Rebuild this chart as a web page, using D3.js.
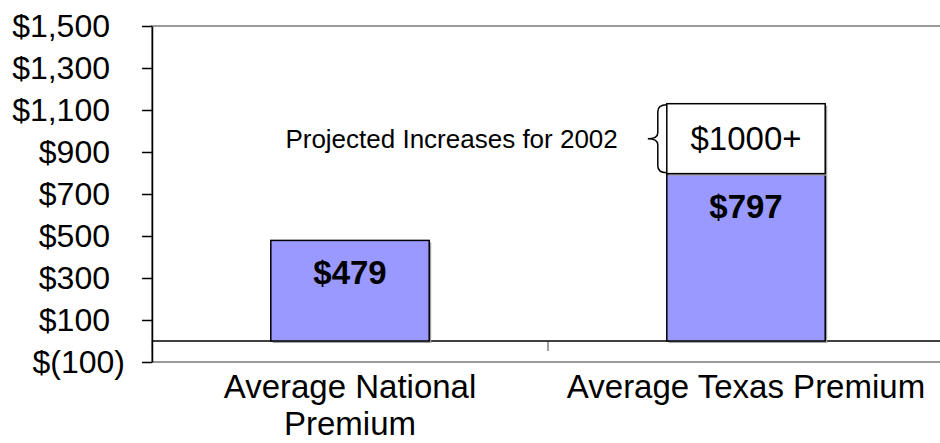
<!DOCTYPE html>
<html>
<head>
<meta charset="utf-8">
<script src="https://cdn.jsdelivr.net/npm/d3@7"></script>
<style>
  body { margin: 0; background: #fff; }
  svg { display: block; font-family: "Liberation Sans", Arial, sans-serif; }
</style>
</head>
<body>
<div id="chart"></div>
<script>
// data
const categories = ["Average National\nPremium", "Average Texas Premium"]
const premiums = [479, 797]
const projectedTop = [null, 1130]   // top of the "projected increase" box
const projectedLabel = "$1000+"
const braceNote = "Projected Increases for 2002"
const yTicks = [-100, 100, 300, 500, 700, 900, 1100, 1300, 1500]

const width = 940, height = 443
const margin = { top: 26, right: -4, bottom: 81, left: 152 }

const svg = d3.select("#chart").append("svg")
   .attr("width", width)
   .attr("height", height)
   .attr("viewBox", [0, 0, width, height])

const x = d3.scaleBand()
   .domain(d3.range(categories.length))
   .range([margin.left, width - margin.right])
   .paddingInner(0.6)
   .paddingOuter(0.3)

const y = d3.scaleLinear()
   .domain([-100, 1500])
   .range([height - margin.bottom, margin.top])

const money = d => d < 0 ? `$(${d3.format(",")(-d)})` : `$${d3.format(",")(d)}`

// plot frame
svg.append("rect")
   .attr("x", margin.left)
   .attr("y", y(1500))
   .attr("width", width - margin.right - margin.left)
   .attr("height", y(-100) - y(1500))
   .attr("fill", "none")
   .attr("stroke", "#9a9a9a")
   .attr("stroke-width", 2)

// category axis sits on zero
const step = x.step()
const catTicks = d3.range(categories.length + 1).map(i => margin.left + i * step)
svg.append("g")
   .attr("stroke", "#808080")
   .attr("stroke-width", 1.5)
   .selectAll("line")
   .data(catTicks)
   .join("line")
   .attr("x1", d => d).attr("x2", d => d)
   .attr("y1", y(0)).attr("y2", y(0) + 10)
svg.append("line")
   .attr("x1", margin.left).attr("x2", width - margin.right)
   .attr("y1", y(0)).attr("y2", y(0))
   .attr("stroke", "#000")
   .attr("stroke-width", 1.5)

// value axis
const yAxis = g => g
   .attr("transform", `translate(${margin.left},0)`)
   .call(d3.axisLeft(y).tickValues(yTicks).tickSize(10).tickSizeOuter(0).tickFormat(money))
   .call(g => g.select(".domain").attr("stroke-width", 1.5))
   .call(g => g.selectAll(".tick line").attr("stroke-width", 1.5))
   .call(g => g.selectAll(".tick text")
      .attr("x", d => d < 0 ? -27 : -42)
      .attr("fill", "#000")
      .attr("font-size", 32)
      .attr("font-family", "Liberation Sans, Arial, sans-serif"))
svg.append("g").call(yAxis)

// bars
const bars = svg.append("g")
bars.selectAll("rect.shadow")
   .data(premiums)
   .join("rect")
   .attr("class", "shadow")
   .attr("x", (d, i) => x(i) + 2)
   .attr("y", d => y(d) + 2)
   .attr("width", x.bandwidth())
   .attr("height", d => y(0) - y(d))
   .attr("fill", "#a0a0a0")
bars.selectAll("rect.bar")
   .data(premiums)
   .join("rect")
   .attr("class", "bar")
   .attr("x", (d, i) => x(i))
   .attr("y", d => y(d))
   .attr("width", x.bandwidth())
   .attr("height", d => y(0) - y(d))
   .attr("fill", "#9999ff")
   .attr("stroke", "#000")
   .attr("stroke-width", 1.5)

bars.selectAll("text")
   .data(premiums)
   .join("text")
   .attr("x", (d, i) => x(i) + x.bandwidth() / 2)
   .attr("y", d => y(d) + 44)
   .attr("text-anchor", "middle")
   .attr("font-size", 33)
   .attr("font-weight", "bold")
   .text(d => "$" + d)

// projected increase box
projectedTop.forEach((top, i) => {
   if (top == null) return
   const x0 = x(i), x1 = x(i) + x.bandwidth()
   const y0 = y(premiums[i]), y1 = y(top)
   svg.append("rect")
      .attr("x", x0 + 2).attr("y", y1 + 2)
      .attr("width", x.bandwidth()).attr("height", y0 - y1)
      .attr("fill", "#a0a0a0")
   svg.append("rect")
      .attr("x", x0).attr("y", y1)
      .attr("width", x.bandwidth()).attr("height", y0 - y1)
      .attr("fill", "#fff")
      .attr("stroke", "#000")
      .attr("stroke-width", 1.5)
   svg.append("text")
      .attr("x", x0 + x.bandwidth() / 2)
      .attr("y", (y0 + y1) / 2)
      .attr("dy", "0.35em")
      .attr("text-anchor", "middle")
      .attr("font-size", 33)
      .text(projectedLabel)

   // curly brace on the left
   const bx = x0 - 9, mid = (y0 + y1) / 2
   const brace = `M${x0},${y1 + 1} Q${bx},${y1 + 1} ${bx},${y1 + 8} L${bx},${mid - 6} Q${bx},${mid} ${bx - 10},${mid}` +
      ` Q${bx},${mid} ${bx},${mid + 6} L${bx},${y0 - 8} Q${bx},${y0 - 1} ${x0},${y0 - 1}`
   svg.append("path")
      .attr("d", brace)
      .attr("fill", "none")
      .attr("stroke", "#000")
      .attr("stroke-width", 1.5)
   svg.append("text")
      .attr("x", bx - 40)
      .attr("y", mid)
      .attr("dy", "0.35em")
      .attr("text-anchor", "end")
      .attr("font-size", 26)
      .text(braceNote)
})

// category labels
svg.append("g")
   .selectAll("text")
   .data(categories)
   .join("text")
   .attr("x", (d, i) => x(i) + x.bandwidth() / 2)
   .attr("y", 398)
   .attr("text-anchor", "middle")
   .attr("font-size", 33)
   .each(function (d) {
      d3.select(this).selectAll("tspan")
         .data(d.split("\n"))
         .join("tspan")
         .attr("x", d3.select(this).attr("x"))
         .attr("dy", (t, j) => j ? 37 : 0)
         .text(t => t)
   })
</script>
</body>
</html>
